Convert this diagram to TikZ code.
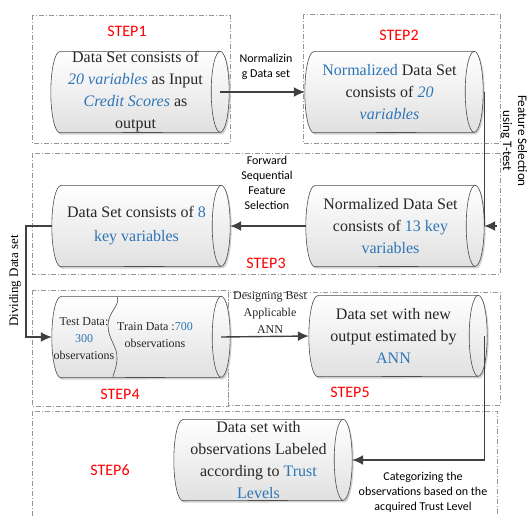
\documentclass[tikz,border=0pt]{standalone}
\usepackage{fontspec}
\setmainfont{Liberation Serif}
\newfontfamily\lbl{Carlito}
\usetikzlibrary{arrows.meta,calc}
\definecolor{hl}{RGB}{46,117,182}
\definecolor{stepred}{RGB}{255,0,0}
\definecolor{boxgray}{RGB}{150,150,150}
\definecolor{linec}{RGB}{64,64,64}
\pgfdeclarelayer{boxes}
\pgfdeclarelayer{cyls}
\pgfsetlayers{boxes,cyls,main}
% node spans from the leftmost point of the cylinder to the centre of its right cap
\newcommand\cylshape[1]{%
  \begin{pgfonlayer}{cyls}
  \fill[black!18] ([xshift=10.5pt,yshift=-2pt]#1.north west) -- ([xshift=1.5pt,yshift=-2pt]#1.north east)
     arc[start angle=90,end angle=-90,x radius=9pt,y radius=40.5pt]
     -- ([xshift=10.5pt,yshift=-2pt]#1.south west)
     arc[start angle=270,end angle=90,x radius=9pt,y radius=40.5pt] -- cycle;
  \path[cylbody] ([xshift=9pt]#1.north west) -- (#1.north east)
     arc[start angle=90,end angle=-90,x radius=9pt,y radius=40.5pt]
     -- ([xshift=9pt]#1.south west)
     arc[start angle=270,end angle=90,x radius=9pt,y radius=40.5pt] -- cycle;
  \draw[cylline] (#1.north east)
     arc[start angle=90,end angle=270,x radius=9pt,y radius=40.5pt];
  \end{pgfonlayer}}
\begin{document}
\begin{tikzpicture}[x=1pt,y=-1pt,
  stepbox/.style={draw=boxgray, line width=0.6pt, dash pattern=on 5pt off 2pt on 1pt off 2pt},
  cyl/.style={rectangle, minimum width=169pt, minimum height=81pt, inner sep=0pt, align=center, text=black!85, font=\fontsize{16}{22}\selectfont},
  cylbody/.style={draw=black!70, line width=0.6pt, top color=white, bottom color=black!12},
  cylline/.style={draw=black!70, line width=0.6pt},
  steplabel/.style={text=stepred, font=\lbl\fontsize{16}{19}\selectfont},
  arrlabel/.style={font=\lbl\fontsize{12}{15}\selectfont, align=center},
  small/.style={font=\fontsize{12}{17}\selectfont, align=center, text=black!85},
  conn/.style={draw=linec, line width=1.4pt},
  arr/.style={conn, -{Latex[length=11pt,width=10pt]}},
]
\useasboundingbox (0,0) rectangle (527,515);
% step boxes
\begin{pgfonlayer}{boxes}
\draw[stepbox] (32,15) rectangle (230,143);
\draw[stepbox] (303,14) rectangle (500,143);
\draw[stepbox] (32,153) rectangle (500,274);
\draw[stepbox] (32,290) rectangle (228,406);
\draw[stepbox] (228,292) rectangle (500,405);
\draw[stepbox] (32,411) rectangle (497,530);
\end{pgfonlayer}
% step labels
\node[steplabel] (s1) at (127,31) {STEP1};
\node[steplabel] (s2) at (399,35) {STEP2};
\node[steplabel] (s3) at (266,263) {STEP3};
\node[steplabel] (s4) at (120,394) {STEP4};
\node[steplabel] (s5) at (350,392) {STEP5};
\node[steplabel] (s6) at (110,470) {STEP6};
% cylinders
\node[cyl] (c1) at (135.5,92) {Data Set consists of\\ \textcolor{hl}{\textit{20 variables}} as Input\\ \textcolor{hl}{\textit{Credit Scores}} as\\ output};
\node[cyl] (c2) at (389.5,92) {\textcolor{hl}{Normalized} Data Set\\ consists of \textcolor{hl}{\textit{20}}\\ \textcolor{hl}{\textit{variables}}};
\node[cyl] (c3) at (136.5,226) {Data Set consists of \textcolor{hl}{8}\\[2pt] \textcolor{hl}{key variables}};
\node[cyl] (c4) at (390.5,226) {Normalized Data Set\\ consists of \textcolor{hl}{13 key}\\ \textcolor{hl}{variables}};
\node[cyl] (c5) at (136.5,337) {};
\node[cyl] (c6) at (393.5,336) {Data set with new\\ output estimated by\\ \textcolor{hl}{ANN}};
\node[cyl] (c7) at (258.5,460) {Data set with\\ observations Labeled\\ according to \textcolor{hl}{Trust}\\ \textcolor{hl}{Levels}};
\cylshape{c1}\cylshape{c2}\cylshape{c3}\cylshape{c4}\cylshape{c5}\cylshape{c6}\cylshape{c7}
% test/train split
\draw[cylline] (117,296.5) .. controls (121,305) and (108,312) .. (108,325) .. controls (108,340) and (118,346) .. (117,360) .. controls (116,370) and (113,374) .. (113,377.5);
\node[small] (t5a) at (84,339) {Test Data:\\\textcolor{hl}{300}\\observations};
\node[small] (t5b) at (155,335) {Train Data :\textcolor{hl}{700}\\observations};
% connectors
\coordinate (d1) at (26,226);
\draw[arr] (c1.east) -- (c2.west);
\draw[conn] ([xshift=10pt]c2.east) -- ([xshift=10pt]c2.east |- c4.east);
\draw[arr] ([xshift=22pt]c4.east) -- ([xshift=9pt]c4.east);
\draw[arr] (c4.west) -- ([xshift=9pt]c3.east);
\draw[arr] (c3.west) -- (d1) |- (c5.west);
\draw[arr] (c5.east) -- (c6.west);
\draw[arr] ([xshift=6pt]c6.east) |- ([xshift=9pt]c7.east);
% connector labels
\node[arrlabel] (l1) at (266,67) {Normalizin\\g Data set};
\node[arrlabel] (l2) at (267,183) {Forward\\Sequential\\Feature\\Selection};
\node[font=\lbl\fontsize{13}{15}\selectfont, align=center, rotate=-90] (l3) at (514,141) {Feature Selection\\using T-test};
\node[font=\fontsize{13}{15}\selectfont, rotate=90] (l4) at (15,281) {Dividing Data set};
\node[small] (l5) at (270,313) {Designing Best\\Applicable\\ANN};
\node[arrlabel] (l6) at (423,492) {Categorizing the\\observations based on the\\acquired Trust Level};
\end{tikzpicture}
\end{document}
